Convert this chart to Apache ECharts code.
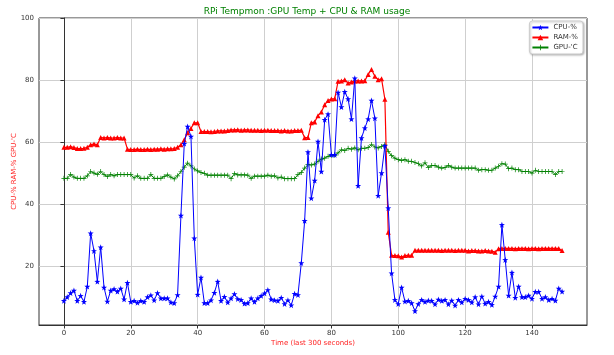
<!DOCTYPE html>
<html>
<head>
<meta charset="utf-8">
<script src="https://cdn.jsdelivr.net/npm/echarts@6/dist/echarts.min.js"></script>
<style>
html,body{margin:0;padding:0;background:#fff;}
#chart{width:614px;height:355px;}
</style>
</head>
<body>
<div id="chart"></div>
<script>
const xTicks = [0, 20, 40, 60, 80, 100, 120, 140];
const yTicks = [20, 40, 60, 80, 100];
const seriesNames = ["CPU-%", "RAM-%", "GPU-'C"];

const cpu = [
  8.8, 10.0, 11.3, 12.1, 8.8, 10.4, 8.5, 13.4, 30.6, 24.9,
  15.0, 26.1, 13.1, 8.6, 12.1, 12.6, 11.8, 12.8, 9.3, 14.6,
  8.5, 8.8, 8.2, 8.8, 8.5, 10.0, 10.6, 9.0, 11.3, 9.6,
  9.6, 9.6, 8.3, 8.1, 10.7, 36.3, 59.5, 65.0, 61.8, 29.0,
  10.8, 16.3, 8.1, 8.1, 9.0, 11.4, 15.0, 8.8, 10.1, 8.3,
  9.6, 11.0, 9.4, 9.1, 7.9, 8.1, 9.6, 8.5, 9.6, 10.4,
  11.2, 12.3, 9.3, 9.0, 8.8, 9.8, 7.8, 9.0, 7.4, 11.1,
  10.7, 21.0, 34.6, 56.8, 41.9, 47.6, 60.2, 50.5, 67.2, 69.0,
  55.9, 55.9, 76.0, 71.3, 76.2, 73.9, 67.4, 80.6, 45.9, 61.3,
  64.5, 67.4, 73.4, 67.7, 42.7, 50.0, 58.8, 38.7, 17.7, 9.1,
  7.8, 13.1, 8.6, 8.8, 8.1, 5.5, 7.8, 9.1, 8.5, 8.9,
  8.8, 7.7, 9.2, 8.8, 9.1, 7.7, 8.9, 7.3, 9.1, 8.3,
  9.5, 9.1, 8.3, 10.0, 7.7, 10.2, 7.9, 8.5, 7.5, 10.2,
  13.4, 33.3, 22.0, 10.5, 17.9, 9.8, 13.4, 10.0, 10.0, 10.5,
  9.5, 11.7, 11.7, 9.5, 10.0, 9.1, 9.5, 8.9, 12.8, 11.8
];

const ram = [
  58.3, 58.3, 58.5, 58.2, 57.9, 57.9, 58.0, 58.3, 59.1, 59.4,
  59.1, 61.5, 61.3, 61.5, 61.3, 61.3, 61.5, 61.3, 61.3, 57.7,
  57.6, 57.6, 57.7, 57.6, 57.6, 57.7, 57.6, 57.7, 57.7, 57.8,
  57.7, 57.8, 57.8, 57.9, 58.3, 59.1, 60.7, 63.0, 64.4, 66.2,
  66.2, 63.4, 63.4, 63.4, 63.3, 63.4, 63.6, 63.6, 63.6, 63.7,
  63.9, 63.9, 64.0, 63.8, 63.9, 63.9, 63.8, 63.8, 63.8, 63.7,
  63.8, 63.8, 63.7, 63.7, 63.7, 63.6, 63.7, 63.6, 63.6, 63.7,
  63.7, 63.8, 61.4, 61.5, 66.2, 66.5, 68.5, 69.7, 72.0, 73.4,
  73.9, 74.0, 79.6, 79.7, 80.1, 79.0, 79.4, 79.7, 79.7, 79.7,
  79.8, 81.8, 83.4, 81.2, 80.1, 80.4, 73.8, 30.9, 23.5, 23.4,
  23.3, 22.9, 23.4, 23.5, 23.5, 25.1, 25.1, 25.1, 25.1, 25.1,
  25.1, 25.1, 25.1, 25.0, 25.1, 25.1, 25.1, 25.0, 25.1, 25.1,
  25.1, 24.9, 25.0, 25.0, 24.9, 24.9, 25.0, 24.9, 24.8, 24.5,
  25.6, 25.7, 25.7, 25.7, 25.7, 25.6, 25.7, 25.7, 25.7, 25.6,
  25.7, 25.7, 25.6, 25.7, 25.7, 25.7, 25.7, 25.7, 25.7, 25.0
];

const gpu = [
  48.3, 48.3, 49.5, 48.7, 48.3, 48.3, 48.3, 49.1, 50.5, 50.0,
  49.6, 50.5, 49.5, 48.9, 49.5, 49.1, 49.5, 49.5, 49.5, 49.5,
  49.5, 48.4, 49.1, 48.3, 48.3, 48.3, 49.5, 48.3, 48.3, 48.3,
  48.9, 49.4, 48.7, 48.1, 49.1, 50.5, 51.9, 53.2, 52.3, 51.3,
  50.7, 50.2, 49.9, 49.3, 49.3, 49.3, 49.3, 49.3, 49.3, 49.3,
  48.2, 49.8, 49.4, 49.4, 49.4, 49.3, 48.3, 49.0, 49.0, 49.0,
  49.0, 49.3, 49.0, 49.1, 48.4, 48.7, 48.2, 48.2, 48.2, 48.2,
  49.5, 50.2, 51.6, 52.7, 52.6, 52.9, 53.8, 54.5, 54.8, 55.4,
  55.7, 55.7, 56.5, 57.5, 57.3, 58.0, 57.7, 58.1, 57.5, 58.0,
  58.0, 58.2, 59.2, 58.4, 58.1, 58.6, 59.2, 57.0, 55.6, 54.8,
  54.3, 54.1, 54.3, 53.8, 53.8, 53.4, 53.0, 52.3, 53.3, 51.8,
  52.4, 52.4, 51.9, 51.6, 51.8, 52.4, 51.9, 51.6, 51.6, 51.6,
  51.6, 51.6, 51.6, 51.6, 50.9, 51.1, 51.1, 50.9, 50.9, 51.6,
  52.2, 53.0, 52.9, 51.4, 51.6, 51.1, 51.1, 50.5, 50.5, 50.5,
  50.0, 50.9, 50.5, 50.5, 50.5, 50.5, 50.5, 49.5, 50.5, 50.5
];

const FONT = 'DejaVu Sans';
const STAR = 'path://M0,-10 L2.35,-3.24 L9.51,-3.09 L3.8,1.24 L5.88,8.09 L0,4 L-5.88,8.09 L-3.8,1.24 L-9.51,-3.09 L-2.35,-3.24 Z';
const PLUS = 'path://M4.3,0 L5.7,0 L5.7,4.3 L10,4.3 L10,5.7 L5.7,5.7 L5.7,10 L4.3,10 L4.3,5.7 L0,5.7 L0,4.3 L4.3,4.3 Z';

function pairs(arr) { return arr.map((v, i) => [i, v]); }

const chart = echarts.init(document.getElementById('chart'), null, {renderer: 'canvas'});
chart.setOption({
  animation: false,
  backgroundColor: '#ffffff',
  title: {
    text: 'RPi Tempmon :GPU Temp + CPU & RAM usage',
    left: 'center',
    top: 2,
    textStyle: {color: '#008000', fontSize: 9, fontWeight: 'normal', fontFamily: FONT}
  },
  legend: {
    orient: 'vertical',
    right: 31,
    top: 21,
    itemWidth: 16,
    itemHeight: 7,
    itemGap: 3,
    padding: [3, 5, 3, 2],
    borderColor: '#cccccc',
    borderWidth: 1,
    borderRadius: 3,
    backgroundColor: '#ffffff',
    shadowColor: 'rgba(0,0,0,0.25)',
    shadowBlur: 2,
    shadowOffsetX: 1,
    shadowOffsetY: 1,
    textStyle: {fontSize: 7, fontFamily: FONT, color: '#333'},
    data: seriesNames
  },
  grid: {
    left: 39, right: 27, top: 18, bottom: 30,
    containLabel: false,
    outerBoundsMode: 'none',
    show: true, borderColor: '#333', borderWidth: 1, backgroundColor: 'transparent'
  },
  xAxis: {
    type: 'value',
    min: -7.45,
    max: 156.45,
    name: 'Time (last 300 seconds)',
    nameLocation: 'middle',
    nameGap: 15,
    nameMoveOverlap: false,
    nameTextStyle: {color: '#ff2020', fontSize: 7, fontFamily: FONT},
    axisLine: {show: true, lineStyle: {color: '#333', width: 1}},
    axisTick: {show: true, length: 3.5, customValues: xTicks, lineStyle: {color: '#333'}},
    axisLabel: {customValues: xTicks, fontSize: 7, fontFamily: FONT, color: '#333', margin: 5},
    splitLine: {show: true, lineStyle: {color: '#cfcfcf', width: 1}}
  },
  yAxis: {
    type: 'value',
    min: 1,
    max: 100,
    name: "CPU-% RAM-% GPU-'C",
    nameLocation: 'middle',
    nameGap: 21,
    nameRotate: 90,
    nameMoveOverlap: false,
    nameTextStyle: {color: '#ff2020', fontSize: 7, fontFamily: FONT},
    axisLine: {show: true, lineStyle: {color: '#333', width: 1}},
    axisTick: {show: true, length: 3.5, customValues: yTicks, lineStyle: {color: '#333'}},
    axisLabel: {customValues: yTicks, fontSize: 7, fontFamily: FONT, color: '#333', margin: 5},
    splitLine: {show: true, lineStyle: {color: '#cfcfcf', width: 1}}
  },
  series: [
    {
      name: seriesNames[0], type: 'line', data: pairs(cpu),
      symbol: STAR, symbolSize: 6, showAllSymbol: true,
      itemStyle: {color: '#0000ff'}, lineStyle: {color: '#0000ff', width: 1}, z: 4
    },
    {
      name: seriesNames[1], type: 'line', data: pairs(ram),
      symbol: 'triangle', symbolSize: 5, showAllSymbol: true,
      itemStyle: {color: '#ff0000'}, lineStyle: {color: '#ff0000', width: 1.2}, z: 3
    },
    {
      name: seriesNames[2], type: 'line', data: pairs(gpu),
      symbol: PLUS, symbolSize: 5, showAllSymbol: true,
      itemStyle: {color: '#008000'}, lineStyle: {color: '#008000', width: 1}, z: 2
    }
  ]
});
</script>
</body>
</html>
